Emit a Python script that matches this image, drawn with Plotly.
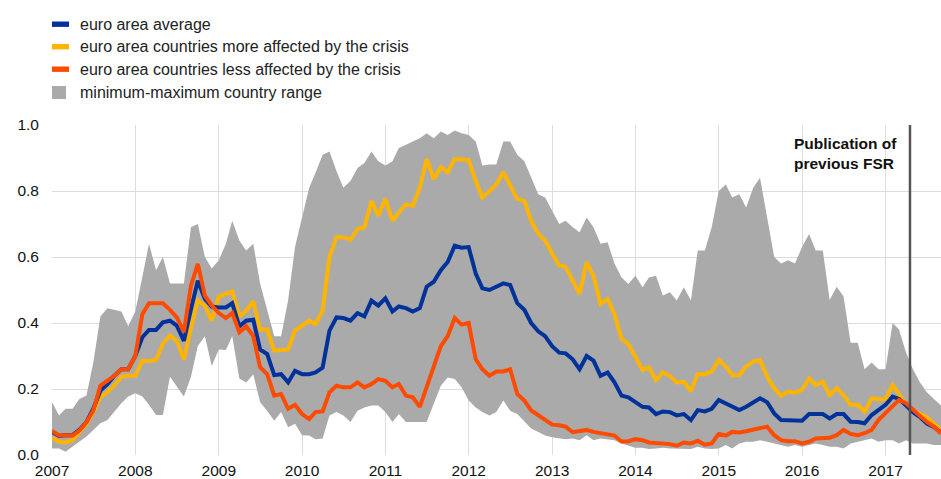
import pandas as pd
import plotly.graph_objects as go

dates = pd.date_range("2007-01-01", periods=129, freq="MS")

range_max = [0.16, 0.12, 0.14, 0.14, 0.17, 0.18, 0.28, 0.42, 0.445, 0.44, 0.435, 0.39,
             0.435, 0.54, 0.64, 0.56, 0.60, 0.52, 0.52, 0.52, 0.69, 0.70, 0.60, 0.565,
             0.59, 0.64, 0.71, 0.65, 0.62, 0.64, 0.52, 0.44, 0.36, 0.36, 0.47, 0.63,
             0.72, 0.81, 0.855, 0.91, 0.92, 0.86, 0.81, 0.83, 0.87, 0.885, 0.92, 0.89,
             0.877, 0.89, 0.93, 0.94, 0.95, 0.96, 0.975, 0.96, 0.98, 0.97, 0.983, 0.975,
             0.97, 0.95, 0.877, 0.88, 0.88, 0.95, 0.95, 0.91, 0.89, 0.84, 0.79, 0.78,
             0.74, 0.70, 0.71, 0.69, 0.675, 0.72, 0.69, 0.64, 0.645, 0.58, 0.538, 0.518,
             0.543, 0.508, 0.538, 0.543, 0.483, 0.493, 0.468, 0.508, 0.468, 0.62, 0.62, 0.69,
             0.80, 0.82, 0.78, 0.79, 0.75, 0.81, 0.84, 0.72, 0.60, 0.58, 0.59, 0.58,
             0.63, 0.67, 0.62, 0.62, 0.47, 0.51, 0.48, 0.34, 0.34, 0.26, 0.28, 0.26,
             0.26, 0.40, 0.38, 0.31, 0.26, 0.22, 0.19, 0.17, 0.15]

range_min = [0.02, 0.02, 0.01, 0.025, 0.04, 0.056, 0.076, 0.096, 0.106, 0.131, 0.157, 0.177,
             0.187, 0.177, 0.152, 0.121, 0.121, 0.237, 0.206, 0.177, 0.237, 0.33, 0.36, 0.27,
             0.32, 0.318, 0.36, 0.232, 0.22, 0.245, 0.16, 0.134, 0.104, 0.13, 0.084, 0.095,
             0.06, 0.059, 0.048, 0.05, 0.12, 0.13, 0.12, 0.10, 0.134, 0.144, 0.15, 0.15,
             0.13, 0.10, 0.124, 0.10, 0.10, 0.10, 0.10, 0.155, 0.21, 0.235, 0.23, 0.205,
             0.165, 0.144, 0.13, 0.12, 0.13, 0.165, 0.134, 0.124, 0.10, 0.08, 0.07, 0.059,
             0.054, 0.05, 0.048, 0.05, 0.045, 0.06, 0.045, 0.05, 0.048, 0.045, 0.035, 0.028,
             0.022, 0.022, 0.018, 0.02, 0.022, 0.02, 0.02, 0.02, 0.018, 0.025, 0.02, 0.018,
             0.02, 0.03, 0.02, 0.035, 0.04, 0.04, 0.045, 0.04, 0.035, 0.03, 0.025, 0.03,
             0.025, 0.03, 0.035, 0.03, 0.025, 0.025, 0.02, 0.035, 0.04, 0.045, 0.05, 0.04,
             0.045, 0.045, 0.035, 0.045, 0.035, 0.035, 0.035, 0.03, 0.03]

euro_area_avg = [0.07, 0.058, 0.06, 0.06, 0.076, 0.10, 0.14, 0.195, 0.215, 0.24, 0.26, 0.26,
                 0.30, 0.357, 0.379, 0.379, 0.402, 0.407, 0.392, 0.346, 0.442, 0.528, 0.473, 0.45,
                 0.447, 0.447, 0.46, 0.39, 0.407, 0.41, 0.32, 0.306, 0.242, 0.245, 0.22, 0.255,
                 0.245, 0.245, 0.25, 0.265, 0.377, 0.417, 0.415, 0.407, 0.43, 0.42, 0.468, 0.453,
                 0.475, 0.435, 0.45, 0.445, 0.435, 0.445, 0.51, 0.525, 0.56, 0.585, 0.634, 0.628,
                 0.63, 0.55, 0.505, 0.50, 0.51, 0.52, 0.515, 0.46, 0.44, 0.40, 0.375, 0.36,
                 0.33, 0.31, 0.308, 0.29, 0.26, 0.30, 0.286, 0.24, 0.25, 0.22, 0.18, 0.175,
                 0.16, 0.146, 0.144, 0.124, 0.132, 0.13, 0.12, 0.124, 0.106, 0.136, 0.132, 0.14,
                 0.167, 0.157, 0.146, 0.136, 0.146, 0.16, 0.172, 0.16, 0.126, 0.106, 0.106, 0.106,
                 0.104, 0.124, 0.124, 0.124, 0.111, 0.124, 0.124, 0.101, 0.10, 0.096, 0.121, 0.136,
                 0.152, 0.177, 0.17, 0.15, 0.13, 0.115, 0.095, 0.085, 0.068]

more_affected = [0.052, 0.04, 0.038, 0.045, 0.069, 0.094, 0.13, 0.175, 0.19, 0.21, 0.237, 0.24,
                 0.24, 0.286, 0.284, 0.288, 0.338, 0.362, 0.346, 0.29, 0.385, 0.468, 0.453, 0.407,
                 0.48, 0.488, 0.496, 0.42, 0.437, 0.466, 0.38, 0.38, 0.316, 0.318, 0.32, 0.377,
                 0.392, 0.407, 0.397, 0.437, 0.60, 0.66, 0.66, 0.652, 0.685, 0.69, 0.77, 0.725,
                 0.776, 0.71, 0.735, 0.76, 0.755, 0.81, 0.897, 0.836, 0.872, 0.857, 0.897, 0.897,
                 0.894, 0.83, 0.78, 0.80, 0.82, 0.857, 0.816, 0.776, 0.77, 0.71, 0.67, 0.65,
                 0.61, 0.574, 0.57, 0.528, 0.488, 0.584, 0.543, 0.458, 0.473, 0.427, 0.352, 0.336,
                 0.296, 0.258, 0.266, 0.227, 0.25, 0.24, 0.22, 0.222, 0.193, 0.245, 0.245, 0.253,
                 0.288, 0.268, 0.242, 0.242, 0.268, 0.283, 0.288, 0.237, 0.202, 0.179, 0.192, 0.189,
                 0.197, 0.232, 0.212, 0.222, 0.182, 0.202, 0.182, 0.152, 0.152, 0.131, 0.172, 0.169,
                 0.169, 0.212, 0.185, 0.15, 0.135, 0.125, 0.115, 0.095, 0.075]

less_affected = [0.073, 0.059, 0.06, 0.059, 0.074, 0.10, 0.134, 0.21, 0.225, 0.24, 0.26, 0.26,
                 0.30, 0.427, 0.46, 0.46, 0.46, 0.44, 0.417, 0.372, 0.513, 0.579, 0.483, 0.453,
                 0.43, 0.415, 0.43, 0.372, 0.39, 0.36, 0.266, 0.245, 0.18, 0.185, 0.14, 0.152,
                 0.124, 0.109, 0.13, 0.132, 0.19, 0.21, 0.205, 0.205, 0.22, 0.205, 0.215, 0.23,
                 0.225, 0.205, 0.215, 0.18, 0.175, 0.146, 0.205, 0.27, 0.33, 0.36, 0.415, 0.395,
                 0.40, 0.29, 0.26, 0.24, 0.253, 0.253, 0.26, 0.185, 0.165, 0.135, 0.12, 0.105,
                 0.092, 0.09, 0.086, 0.069, 0.072, 0.076, 0.07, 0.066, 0.064, 0.059, 0.041, 0.042,
                 0.048, 0.045, 0.038, 0.036, 0.033, 0.033, 0.028, 0.038, 0.035, 0.043, 0.031, 0.035,
                 0.064, 0.059, 0.07, 0.068, 0.072, 0.076, 0.08, 0.086, 0.06, 0.045, 0.042, 0.042,
                 0.035, 0.04, 0.05, 0.05, 0.052, 0.06, 0.076, 0.064, 0.06, 0.066, 0.076, 0.106,
                 0.126, 0.148, 0.167, 0.157, 0.136, 0.118, 0.10, 0.086, 0.065]

year_ticks = ["2007", "2008", "2009", "2010", "2011", "2012", "2013", "2014", "2015", "2016", "2017"]
fsr_date = "2017-04-18"
fsr_label = "Publication of<br>previous FSR"
legend_labels = ["euro area average",
                 "euro area countries more affected by the crisis",
                 "euro area countries less affected by the crisis",
                 "minimum-maximum country range"]

BLUE = "#003299"
YELLOW = "#ffb400"
ORANGE = "#ff4b00"
GREY = "#aaaaaa"
FONT = "Arial, 'Liberation Sans', sans-serif"

fig = go.Figure()
fig.add_trace(go.Scatter(x=dates, y=range_min, mode="lines", line=dict(width=0, color=GREY),
                         showlegend=False, hoverinfo="skip"))
fig.add_trace(go.Scatter(x=dates, y=range_max, mode="lines", line=dict(width=0, color=GREY),
                         fill="tonexty", fillcolor=GREY, showlegend=False))
fig.add_trace(go.Scatter(x=dates, y=more_affected, mode="lines", line=dict(width=4, color=YELLOW),
                         showlegend=False))
fig.add_trace(go.Scatter(x=dates, y=euro_area_avg, mode="lines", line=dict(width=4, color=BLUE),
                         showlegend=False))
fig.add_trace(go.Scatter(x=dates, y=less_affected, mode="lines", line=dict(width=4, color=ORANGE),
                         showlegend=False))

# vertical publication line
fig.add_shape(type="line", xref="x", yref="paper", x0=fsr_date, x1=fsr_date, y0=0, y1=1,
              line=dict(color="#555555", width=2.5))


def px_x(p):
    return (p - 52) / 889


def px_y(p):
    return (455 - p) / 330


fig.add_annotation(xref="paper", yref="paper", x=px_x(792), y=px_y(133),
                   xanchor="left", yanchor="top", align="left", showarrow=False,
                   text="<b>" + fsr_label + "</b>",
                   font=dict(family=FONT, size=15.5, color="#111111"))

# manual legend
leg_colors = [BLUE, YELLOW, ORANGE, GREY]
leg_centers = [24.2, 46.7, 69.2, 92.5]
for i, (lab, col, yc) in enumerate(zip(legend_labels, leg_colors, leg_centers)):
    if i < 3:
        fig.add_shape(type="rect", xref="paper", yref="paper", x0=px_x(52), x1=px_x(69),
                      y0=px_y(yc + 2.7), y1=px_y(yc - 2.7), fillcolor=col, line=dict(width=0))
    else:
        fig.add_shape(type="rect", xref="paper", yref="paper", x0=px_x(52), x1=px_x(66),
                      y0=px_y(yc + 6.5), y1=px_y(yc - 6.5), fillcolor=col, line=dict(width=0))
    fig.add_annotation(xref="paper", yref="paper", x=px_x(78), y=px_y(yc), xanchor="left",
                       yanchor="middle", showarrow=False, text=lab,
                       font=dict(family=FONT, size=16, color="#222222"))

fig.update_layout(
    width=941, height=479,
    margin=dict(l=52, r=0, t=125, b=24, autoexpand=False),
    plot_bgcolor="white", paper_bgcolor="white",
    font=dict(family=FONT, size=15.5, color="#111111"),
    showlegend=False,
)
fig.update_xaxes(type="date", range=["2007-01-01", "2017-09-01"],
                 tickvals=[y + "-01-01" for y in year_ticks], ticktext=year_ticks,
                 showgrid=True, gridcolor="#dcdcdc", gridwidth=1, zeroline=False,
                 showline=False, ticks="", ticklabelstandoff=4, automargin=False)
fig.update_yaxes(range=[0, 1.0], dtick=0.2, tickformat=".1f", showgrid=True,
                 gridcolor="#dcdcdc", gridwidth=1, zeroline=False, showline=False,
                 ticks="", ticklabelstandoff=12, automargin=False)

fig.write_html("out.html", config={"displayModeBar": False},
               post_script="document.body.style.margin='0';document.body.style.overflow='hidden';")
